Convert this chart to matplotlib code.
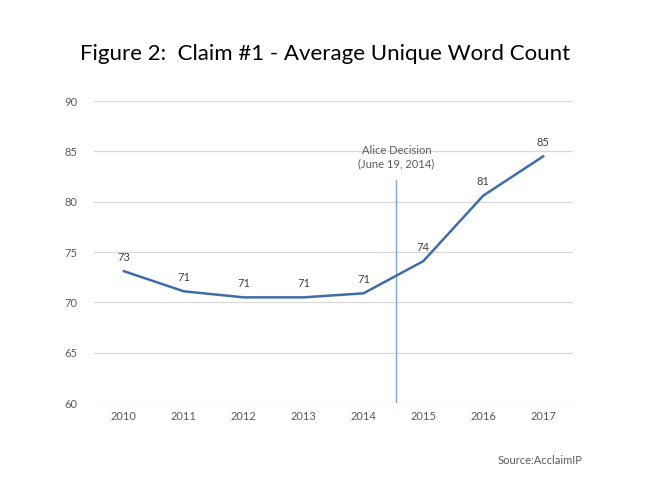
import matplotlib
matplotlib.use("Agg")
import matplotlib.pyplot as plt

years = ["2010", "2011", "2012", "2013", "2014", "2015", "2016", "2017"]
values = [73.1, 71.1, 70.5, 70.5, 70.9, 74.1, 80.6, 84.5]
labels = ["73", "71", "71", "71", "71", "74", "81", "85"]
yticks = [60, 65, 70, 75, 80, 85, 90]
decision_pos = 4.55

plt.rcParams['font.family'] = ['Lato', 'DejaVu Sans']

fig = plt.figure(figsize=(6.5, 4.88), dpi=100)
ax = fig.add_axes([0.1446, 0.174, 0.737, 0.619])

x = list(range(len(years)))
ax.plot(x, values, color="#3E6DAA", lw=1.8, solid_joinstyle="round", zorder=3)
for xi, v, lab in zip(x, values, labels):
    ax.annotate(lab, (xi, v), xytext=(0, 6), textcoords="offset points",
                ha="center", va="bottom", fontsize=8, color="#404040")

ax.axvline(decision_pos, ymin=0, ymax=(82.2 - 60) / 30, color="#7FA2CF", lw=1.0, zorder=2)
ax.text(decision_pos, 83.2, "Alice Decision\n(June 19, 2014)", ha="center", va="bottom",
        fontsize=8, color="#595959", linespacing=1.25)

ax.set_xlim(-0.5, 7.5)
ax.set_ylim(60, 90)
ax.set_yticks(yticks)
ax.set_xticks(x)
ax.set_xticklabels(years)
ax.grid(axis="y", color="#D9D9D9", lw=0.9)
ax.set_axisbelow(True)
for s in ax.spines.values():
    s.set_visible(False)
ax.tick_params(length=0, labelsize=8, colors="#595959")
ax.tick_params(axis="y", pad=12)
ax.tick_params(axis="x", pad=6)

fig.text(0.5, 0.890, "Figure 2:  Claim #1 - Average Unique Word Count", ha="center", va="center",
         fontsize=16, color="#000000")
fig.text(0.765, 0.057, "Source:AcclaimIP", ha="left", va="center", fontsize=8, color="#595959")

fig.savefig("out.png", dpi=100)
